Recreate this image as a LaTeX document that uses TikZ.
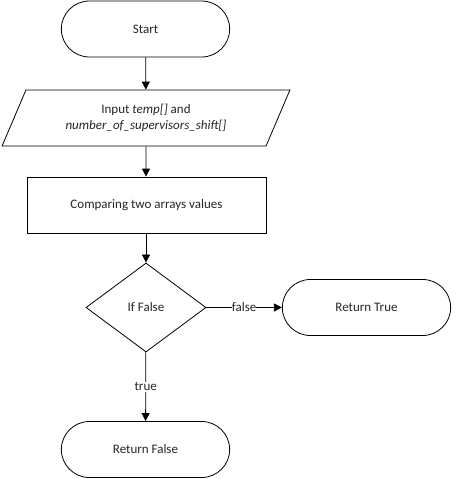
\documentclass[tikz,border=0pt]{standalone}
\usepackage{fontspec}
\setmainfont{Carlito}
\usetikzlibrary{shapes.geometric,shapes.misc,arrows.meta}
\begin{document}
\begin{tikzpicture}[x=1pt,y=-1pt,
  every node/.style={font=\fontsize{13}{16}\selectfont, text=black!85},
  boxbase/.style={draw, line width=0.8pt, fill=white},
  terminal/.style={boxbase, rounded rectangle, minimum width=175pt, minimum height=56pt},
  io/.style={boxbase, trapezium, trapezium left angle=64, trapezium right angle=116,
    trapezium stretches=true, minimum width=288pt, minimum height=56pt, align=center},
  process/.style={boxbase, rectangle, minimum width=239pt, minimum height=56pt},
  decision/.style={boxbase, diamond, aspect=1.35, minimum width=120pt, minimum height=89pt, inner sep=0pt},
  flow/.style={line width=0.8pt, -{Triangle[length=8pt,width=8pt]}},
  lbl/.style={fill=white, inner xsep=0pt, inner ysep=1pt}
]
\useasboundingbox (0,0) rectangle (455,479);

\node[terminal] (start) at (145.5,29) {Start};
\node[io] (input) at (146,118) {Input \textit{temp[]} and\\ \textit{number\_of\_supervisors\_shift[]}};
\node[process] (cmp) at (146.5,205) {Comparing two arrays values};
\node[decision] (dec) at (146,307.5) {If False};
\node[terminal] (rtrue) at (366.5,307.5) {Return True};
\node[terminal] (rfalse) at (145.5,449.5) {Return False};

\draw[flow] (start) -- (input);
\draw[flow] (input) -- (cmp.north -| input);
\draw[flow] (cmp.south -| dec) -- (dec);
\draw[flow] (dec) -- node[lbl] {false} (rtrue);
\draw[flow] (dec) -- node[lbl] {true} (rfalse);
\end{tikzpicture}
\end{document}
